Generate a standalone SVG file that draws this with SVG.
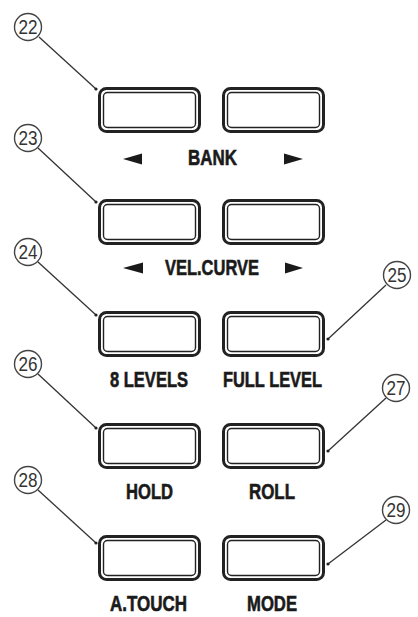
<svg xmlns="http://www.w3.org/2000/svg" width="418" height="617" viewBox="0 0 418 617">
<style>
.bo{fill:#fff;stroke:#222;stroke-width:3}
.bi{fill:#fff;stroke:#222;stroke-width:1.4}
.lbl{font-family:"Liberation Sans",Arial,sans-serif;font-weight:bold;font-size:21.5px;fill:#1a1a1a;stroke:#1a1a1a;stroke-width:0.6;text-anchor:middle}
.cn{fill:#fff;stroke:#444;stroke-width:1.4}
.num{font-family:"Liberation Sans",Arial,sans-serif;font-size:20px;fill:#333;text-anchor:middle}
.ln{stroke:#333;stroke-width:1.3;fill:none}
.dot{fill:#222}
.tri{fill:#1a1a1a}
</style>
<defs>
<g id="btn">
<rect class="bo" x="1.5" y="1.5" width="100" height="43" rx="7"/>
<rect class="bi" x="5.5" y="5.5" width="92" height="35" rx="4"/>
</g>
</defs>
<rect width="418" height="617" fill="#fff"/>
<g id="connectors">
<line class="ln" x1="39" y1="37" x2="96" y2="89"/><circle class="dot" cx="96" cy="89" r="1.6"/>
<line class="ln" x1="38" y1="148" x2="96" y2="202"/><circle class="dot" cx="96" cy="202" r="1.6"/>
<line class="ln" x1="38" y1="262" x2="96" y2="315"/><circle class="dot" cx="96" cy="315" r="1.6"/>
<line class="ln" x1="386" y1="285" x2="328" y2="339"/><circle class="dot" cx="328" cy="339" r="1.6"/>
<line class="ln" x1="38" y1="374" x2="96" y2="428"/><circle class="dot" cx="96" cy="428" r="1.6"/>
<line class="ln" x1="386" y1="398" x2="328" y2="451"/><circle class="dot" cx="328" cy="451" r="1.6"/>
<line class="ln" x1="38" y1="490" x2="96" y2="543"/><circle class="dot" cx="96" cy="543" r="1.6"/>
<line class="ln" x1="386" y1="520" x2="328" y2="564"/><circle class="dot" cx="328" cy="564" r="1.6"/>
</g>
<g id="c22"><circle class="cn" cx="28" cy="27" r="13.5"/><text class="num" x="28" y="34" textLength="19" lengthAdjust="spacingAndGlyphs">22</text></g>
<g id="c23"><circle class="cn" cx="28" cy="138" r="13.5"/><text class="num" x="28" y="145" textLength="19" lengthAdjust="spacingAndGlyphs">23</text></g>
<g id="c24"><circle class="cn" cx="28" cy="252" r="13.5"/><text class="num" x="28" y="259" textLength="19" lengthAdjust="spacingAndGlyphs">24</text></g>
<g id="c25"><circle class="cn" cx="397" cy="275" r="13.5"/><text class="num" x="397" y="282" textLength="19" lengthAdjust="spacingAndGlyphs">25</text></g>
<g id="c26"><circle class="cn" cx="28" cy="364" r="13.5"/><text class="num" x="28" y="371" textLength="19" lengthAdjust="spacingAndGlyphs">26</text></g>
<g id="c27"><circle class="cn" cx="396" cy="388" r="13.5"/><text class="num" x="396" y="395" textLength="19" lengthAdjust="spacingAndGlyphs">27</text></g>
<g id="c28"><circle class="cn" cx="28" cy="480" r="13.5"/><text class="num" x="28" y="487" textLength="19" lengthAdjust="spacingAndGlyphs">28</text></g>
<g id="c29"><circle class="cn" cx="396" cy="510" r="13.5"/><text class="num" x="396" y="517" textLength="19" lengthAdjust="spacingAndGlyphs">29</text></g>
<g id="bank-left"><use href="#btn" x="98" y="87"/></g>
<g id="bank-right"><use href="#btn" x="222" y="87"/></g>
<g id="bank-label">
<polygon class="tri" points="123,159 142,153.5 142,164.5"/>
<text class="lbl" x="212.5" y="165" textLength="49" lengthAdjust="spacingAndGlyphs">BANK</text>
<polygon class="tri" points="303,159 284,153.5 284,164.5"/>
</g>
<g id="vel-left"><use href="#btn" x="98" y="199"/></g>
<g id="vel-right"><use href="#btn" x="222" y="199"/></g>
<g id="vel-label">
<polygon class="tri" points="123,268 143,262.5 143,273.5"/>
<text class="lbl" x="212" y="275" textLength="94" lengthAdjust="spacingAndGlyphs">VEL.CURVE</text>
<polygon class="tri" points="303,268 285,262.5 285,273.5"/>
</g>
<g id="levels8"><use href="#btn" x="98" y="311"/><text class="lbl" x="149" y="387" textLength="78" lengthAdjust="spacingAndGlyphs">8 LEVELS</text></g>
<g id="fulllevel"><use href="#btn" x="222" y="311"/><text class="lbl" x="272.5" y="387" textLength="99" lengthAdjust="spacingAndGlyphs">FULL LEVEL</text></g>
<g id="hold"><use href="#btn" x="98" y="423"/><text class="lbl" x="149.5" y="499" textLength="47" lengthAdjust="spacingAndGlyphs">HOLD</text></g>
<g id="roll"><use href="#btn" x="222" y="423"/><text class="lbl" x="272" y="499" textLength="46" lengthAdjust="spacingAndGlyphs">ROLL</text></g>
<g id="atouch"><use href="#btn" x="98" y="535"/><text class="lbl" x="148.5" y="611" textLength="77" lengthAdjust="spacingAndGlyphs">A.TOUCH</text></g>
<g id="mode"><use href="#btn" x="222" y="535"/><text class="lbl" x="272" y="611" textLength="50" lengthAdjust="spacingAndGlyphs">MODE</text></g>
</svg>
